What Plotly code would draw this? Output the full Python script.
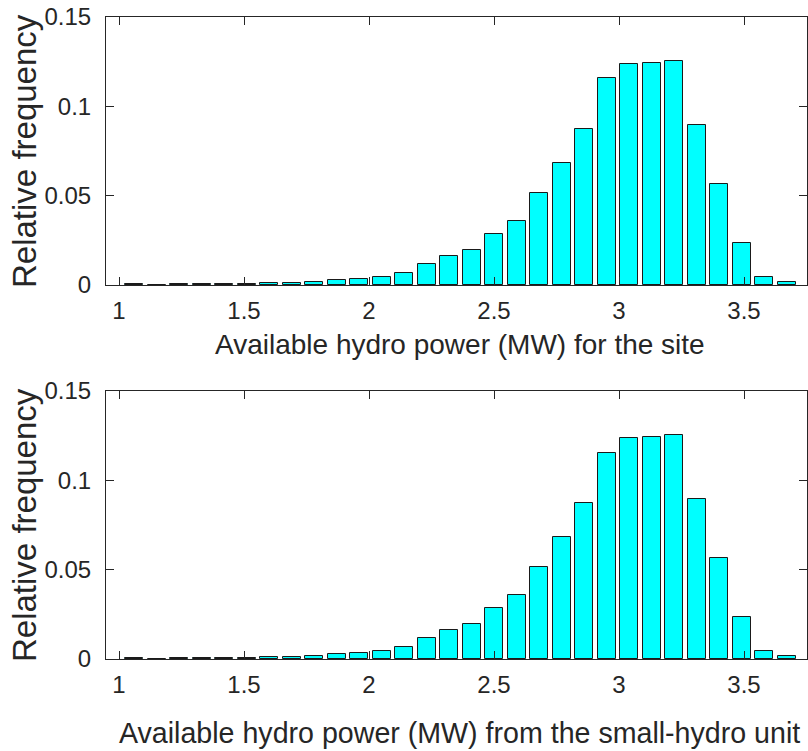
import plotly.graph_objects as go
from plotly.subplots import make_subplots

# Bin centres (MW) of the 30-bin histogram
bin_centers = [1.06, 1.15, 1.24, 1.33, 1.42, 1.51, 1.60, 1.69, 1.78, 1.87,
               1.96, 2.05, 2.14, 2.23, 2.32, 2.41, 2.50, 2.59, 2.68, 2.77,
               2.86, 2.95, 3.04, 3.13, 3.22, 3.31, 3.40, 3.49, 3.58, 3.67]

# Relative frequency: available hydro power for the site
freq_site = [0.0005, 0.0001, 0.0003, 0.0003, 0.0003, 0.0006, 0.0009, 0.0013, 0.0019, 0.0026,
             0.0034, 0.0046, 0.0068, 0.0117, 0.0162, 0.0194, 0.0287, 0.0356, 0.0516, 0.0682,
             0.0872, 0.1156, 0.1238, 0.1242, 0.1255, 0.0898, 0.0568, 0.0233, 0.0043, 0.0015]

# Relative frequency: available hydro power from the small-hydro unit
freq_unit = [0.0005, 0.0001, 0.0003, 0.0003, 0.0003, 0.0006, 0.0009, 0.0013, 0.0019, 0.0026,
             0.0034, 0.0046, 0.0068, 0.0117, 0.0162, 0.0194, 0.0287, 0.0356, 0.0516, 0.0682,
             0.0872, 0.1153, 0.1238, 0.1242, 0.1255, 0.0895, 0.0568, 0.0233, 0.0043, 0.0015]

x_ticks = [1, 1.5, 2, 2.5, 3, 3.5]
x_tick_text = ["1", "1.5", "2", "2.5", "3", "3.5"]
y_ticks = [0, 0.05, 0.1, 0.15]
y_tick_text = ["0", "0.05", "0.1", "0.15"]

xlabel_top = "Available hydro power (MW) for the site"
xlabel_bottom = "Available hydro power (MW) from the small-hydro unit"
ylabel = "Relative frequency"

W, H = 808, 751
ML, MR, MT, MB = 106, 1, 17, 92
plot_h = H - MT - MB
plot_w = W - ML - MR

def py(pix):
    return (H - MB - pix) / plot_h

def px(pix):
    return (pix - ML) / plot_w

AX = "#262626"
FONT = "Liberation Sans, Arial, sans-serif"

fig = make_subplots(rows=2, cols=1)
fig.update_layout(
    yaxis=dict(domain=[py(285), 1.0]),
    yaxis2=dict(domain=[0.0, py(391)]),
)

for row, vals in [(1, freq_site), (2, freq_unit)]:
    fig.add_trace(go.Bar(
        x=bin_centers, y=vals, width=0.072,
        marker=dict(color="#00FFFF", line=dict(color="#1a1a1a", width=1)),
        showlegend=False, hoverinfo="x+y",
    ), row=row, col=1)

for row in (1, 2):
    fig.update_xaxes(
        range=[0.948, 3.752], tickvals=x_ticks, ticktext=x_tick_text,
        ticks="inside", ticklen=8, tickwidth=1, tickcolor=AX,
        showline=True, linecolor=AX, linewidth=1, mirror="allticks",
        showgrid=False, zeroline=False,
        tickfont=dict(family=FONT, size=24, color=AX),
        ticklabelstandoff=4,
        row=row, col=1)
    fig.update_yaxes(
        range=[0, 0.15], tickvals=y_ticks, ticktext=y_tick_text,
        ticks="inside", ticklen=8, tickwidth=1, tickcolor=AX,
        showline=True, linecolor=AX, linewidth=1, mirror="allticks",
        showgrid=False, zeroline=False,
        tickfont=dict(family=FONT, size=24, color=AX),
        ticklabelstandoff=9,
        row=row, col=1)

ann = [
    dict(text=xlabel_top, x=px(459.5), y=py(344), font_size=28),
    dict(text=xlabel_bottom, x=px(459), y=py(733), font_size=28.6),
    dict(text=ylabel, x=px(24), y=py(151), font_size=33, textangle=-90),
    dict(text=ylabel, x=px(24), y=py(525), font_size=33, textangle=-90),
]
for a in ann:
    fig.add_annotation(
        text=a["text"], x=a["x"], y=a["y"], xref="paper", yref="paper",
        xanchor="center", yanchor="middle", showarrow=False,
        textangle=a.get("textangle", 0),
        font=dict(family=FONT, size=a["font_size"], color=AX),
    )

fig.update_layout(
    width=W, height=H,
    margin=dict(l=ML, r=MR, t=MT, b=MB),
    plot_bgcolor="white", paper_bgcolor="white",
    bargap=0,
)

fig.write_html("out.html")
